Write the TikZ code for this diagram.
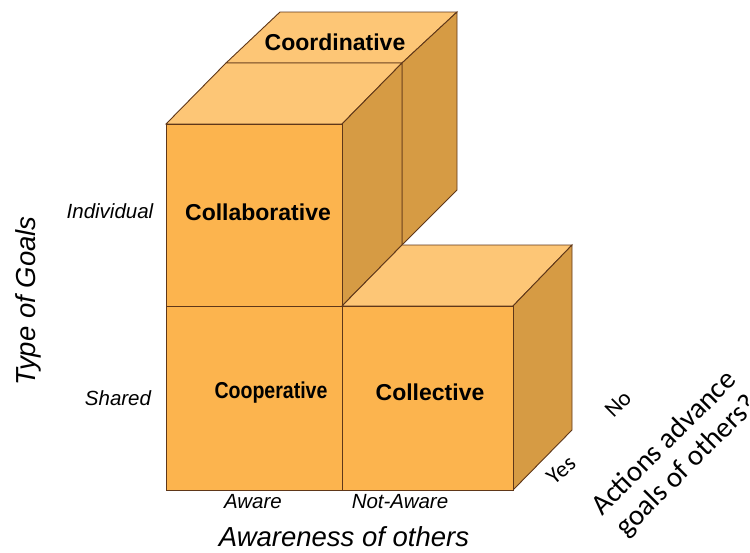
\documentclass[tikz,border=0pt]{standalone}
\usepackage{fontspec}
\setmainfont{Liberation Sans}
\newfontfamily\calfont{Carlito}
\definecolor{frontc}{RGB}{252,180,78}
\definecolor{topc}{RGB}{253,198,118}
\definecolor{sidec}{RGB}{214,155,68}
\definecolor{edgec}{RGB}{95,55,25}
\tikzset{
  face/.style={draw=edgec, line width=0.9pt, line join=miter},
  boxlabel/.style={font=\fontsize{23}{26}\selectfont\bfseries, text=black},
  smalllabel/.style={font=\fontsize{20.5}{22}\selectfont\itshape, text=black},
  axislabel/.style={font=\fontsize{27.5}{30}\selectfont\itshape, text=black},
  yeslabel/.style={font=\fontsize{23}{25}\selectfont\calfont, text=black},
}
\begin{document}
\begin{tikzpicture}[x=1pt,y=-1pt]
\useasboundingbox (0,0) rectangle (750,552);
% Coordinative (back top)
\fill[topc] (226,63) -- (402,63) -- (457,12) -- (280,12) -- cycle;
\draw[face] (226,63) -- (402,63) -- (457,12) -- (280,12) -- cycle;
\fill[sidec] (402,63) -- (457,12) -- (457,190) -- (402,245) -- cycle;
\draw[face] (402,63) -- (457,12) -- (457,190) -- (402,245) -- cycle;
% Collaborative (front top)
\fill[topc] (166,124) -- (342,124) -- (402,63) -- (226,63) -- cycle;
\draw[face] (166,124) -- (342,124) -- (402,63) -- (226,63) -- cycle;
\fill[sidec] (342,124) -- (402,63) -- (402,245) -- (342,306) -- cycle;
\draw[face] (342,124) -- (402,63) -- (402,245) -- (342,306) -- cycle;
\fill[frontc] (166,124) rectangle (342,306);
\draw[face] (166,124) rectangle (342,306);
% Cooperative
\fill[frontc] (166,306) rectangle (342,490);
\draw[face] (166,306) rectangle (342,490);
% Collective
\fill[topc] (342,306) -- (513,306) -- (572,245) -- (402,245) -- cycle;
\draw[face] (342,306) -- (513,306) -- (572,245) -- (402,245) -- cycle;
\fill[sidec] (513,306) -- (572,245) -- (572,430) -- (513,490) -- cycle;
\draw[face] (513,306) -- (572,245) -- (572,430) -- (513,490) -- cycle;
\fill[frontc] (342,306) rectangle (513,490);
\draw[face] (342,306) rectangle (513,490);
% box labels
\node[boxlabel] (coord) at (335,42) {Coordinative};
\node[boxlabel] (collab) at (258,212) {Collaborative};
\node[boxlabel, xscale=0.85] (coop) at (271,393) {Cooperative};
\node[boxlabel] (collect) at (430,392) {Collective};
% axis labels
\node[smalllabel] (indiv) at (110,211) {Individual};
\node[smalllabel] (shared) at (118,398) {Shared};
\node[smalllabel] (aware) at (253,502) {Aware};
\node[smalllabel] (notaware) at (400,502) {Not-Aware};
\node[axislabel, rotate=90] (typegoals) at (28,301) {Type of Goals};
\node[axislabel] (awareness) at (344,537) {Awareness of others};
\node[yeslabel, rotate=40] (yes) at (561,470) {Yes};
\node[yeslabel, rotate=45] (no) at (618,404) {No};
\node[font=\fontsize{29}{32}\selectfont\calfont, rotate=45, align=center] (actions) at (676,455) {Actions advance\\goals of others?};
\end{tikzpicture}
\end{document}
